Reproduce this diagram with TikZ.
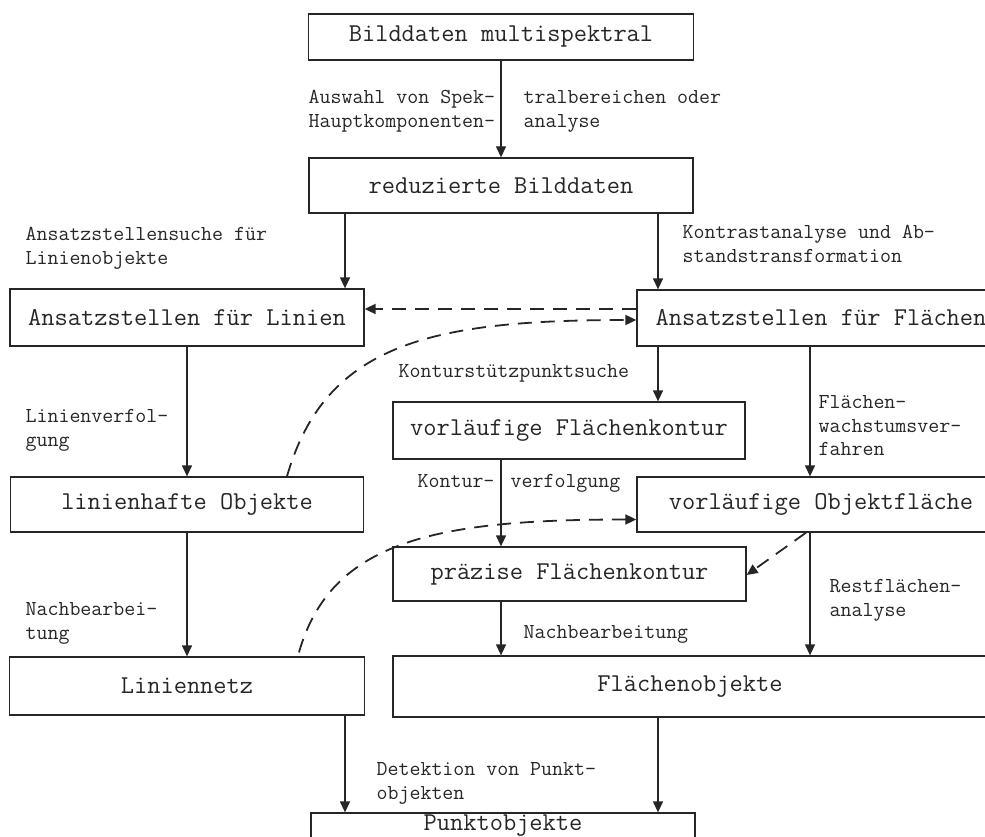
\documentclass[tikz,border=0pt]{standalone}
\usetikzlibrary{arrows.meta,calc}
\begin{document}
\begin{tikzpicture}[x=1pt, y=-1pt, line width=1.3pt, color=black!85,
	>={Triangle[length=11pt,width=10pt]},
	kasten/.style={draw, inner sep=0pt, font=\ttfamily\fontsize{25.7}{30}\selectfont},
	notiz/.style={inner sep=0pt, anchor=north west, align=left, font=\ttfamily\fontsize{21.3}{23.5}\selectfont},
	strich/.style={line width=1.8pt, dash pattern=on 14pt off 9pt}]
\useasboundingbox (0,0) rectangle (985,837);

\node[kasten, minimum width=385pt, minimum height=46pt] (Bilddaten) at (501,37) {Bilddaten multispektral};
\node[kasten, minimum width=384pt, minimum height=55pt] (reduziert) at (501,185.5) {reduzierte Bilddaten};
\node[kasten, minimum width=354pt, minimum height=57pt] (AnsLinien) at (187,317.5) {Ansatzstellen für Linien};
\node[kasten, minimum width=368pt, minimum height=56pt] (AnsFlaechen) at (821,318) {Ansatzstellen für Flächen};
\node[kasten, minimum width=352pt, minimum height=57pt] (vorlKontur) at (569,430.5) {vorläufige Flächenkontur};
\node[kasten, minimum width=353pt, minimum height=55pt] (linienhaft) at (187,504.5) {linienhafte Objekte};
\node[kasten, minimum width=368pt, minimum height=55pt] (vorlObjekt) at (821,504.5) {vorläufige Objektfläche};
\node[kasten, minimum width=353pt, minimum height=54pt] (praezise) at (569.5,574) {präzise Flächenkontur};
\node[kasten, minimum width=355pt, minimum height=58pt] (Liniennetz) at (187,686) {Liniennetz};
\node[kasten, minimum width=594pt, minimum height=61pt] (Flaechenobj) at (690,686.5) {Flächenobjekte};
\node[kasten, minimum width=384pt, minimum height=26pt] (Punktobj) at (503,826) {Punktobjekte};

\node[notiz] (Auswahl) at (308,90) {Auswahl von Spek-\\Hauptkomponenten-};
\node[notiz] (tral) at (523,90) {tralbereichen oder\\analyse};
\node[notiz] (Ansuche) at (25,227) {Ansatzstellensuche für\\Linienobjekte};
\node[notiz] (Kontrast) at (682,225) {Kontrastanalyse und Ab-\\standstransformation};
\node[notiz] (Linverf) at (25,409) {Linienverfol-\\gung};
\node[notiz] (Stuetz) at (398,364) {Konturstützpunktsuche};
\node[notiz] (Wachstum) at (818,395) {Flächen-\\wachstumsver-\\fahren};
\node[notiz] (Kontur) at (417,474) {Kontur-};
\node[notiz] (Verfolgung) at (510,474) {verfolgung};
\node[notiz] (NachbL) at (25,602) {Nachbearbei-\\tung};
\node[notiz] (NachbF) at (523,625) {Nachbearbeitung};
\node[notiz] (Rest) at (829,579) {Restflächen-\\analyse};
\node[notiz] (Detektion) at (376,762) {Detektion von Punkt-\\objekten};

\coordinate (xa) at (345,0);
\coordinate (xb) at (658,0);
\coordinate (xc) at (810,0);

\draw[->] (Bilddaten) 		-- (reduziert);
\draw[->] (reduziert.south -| xa) 	-- (AnsLinien.north -| xa);
\draw[->] (reduziert.south -| xb) 	-- (AnsFlaechen.north -| xb);
\draw[->] (AnsLinien) 		-- (linienhaft);
\draw[->] (linienhaft) 		-- (Liniennetz);
\draw[->] (AnsFlaechen.south -| xb) 	-- (vorlKontur.north -| xb);
\draw[->] (AnsFlaechen.south -| xc) 	-- (vorlObjekt.north -| xc);
\draw[->] (vorlKontur.south -| Bilddaten) 	-- (praezise.north -| Bilddaten);
\draw[->] (praezise.south -| Bilddaten) 	-- (Flaechenobj.north -| Bilddaten);
\draw[->] (vorlObjekt.south -| xc) 	-- (Flaechenobj.north -| xc);
\draw[->] (Liniennetz.south -| xa) 	-- (Punktobj.north -| xa);
\draw[->] (Flaechenobj.south -| xb) 	-- (Punktobj.north -| xb);

\draw[->, strich] ([yshift=9pt]AnsFlaechen.west) -- ([yshift=9pt]AnsFlaechen.west -| AnsLinien.east);
\draw[->, strich] ($(linienhaft.north)+(100,0)$) .. controls +(38,-132) and +(-207,0) .. ([yshift=-2pt]AnsFlaechen.west);
\draw[->, strich] ($(Liniennetz.north)+(112,-4)$) .. controls +(32,-112) and +(-200,0) .. ([yshift=-15pt]vorlObjekt.west);
\draw[->, strich] ($(vorlObjekt.south)+(-15,0)$) -- ([yshift=-1pt]praezise.east);

\end{tikzpicture}
\end{document}
